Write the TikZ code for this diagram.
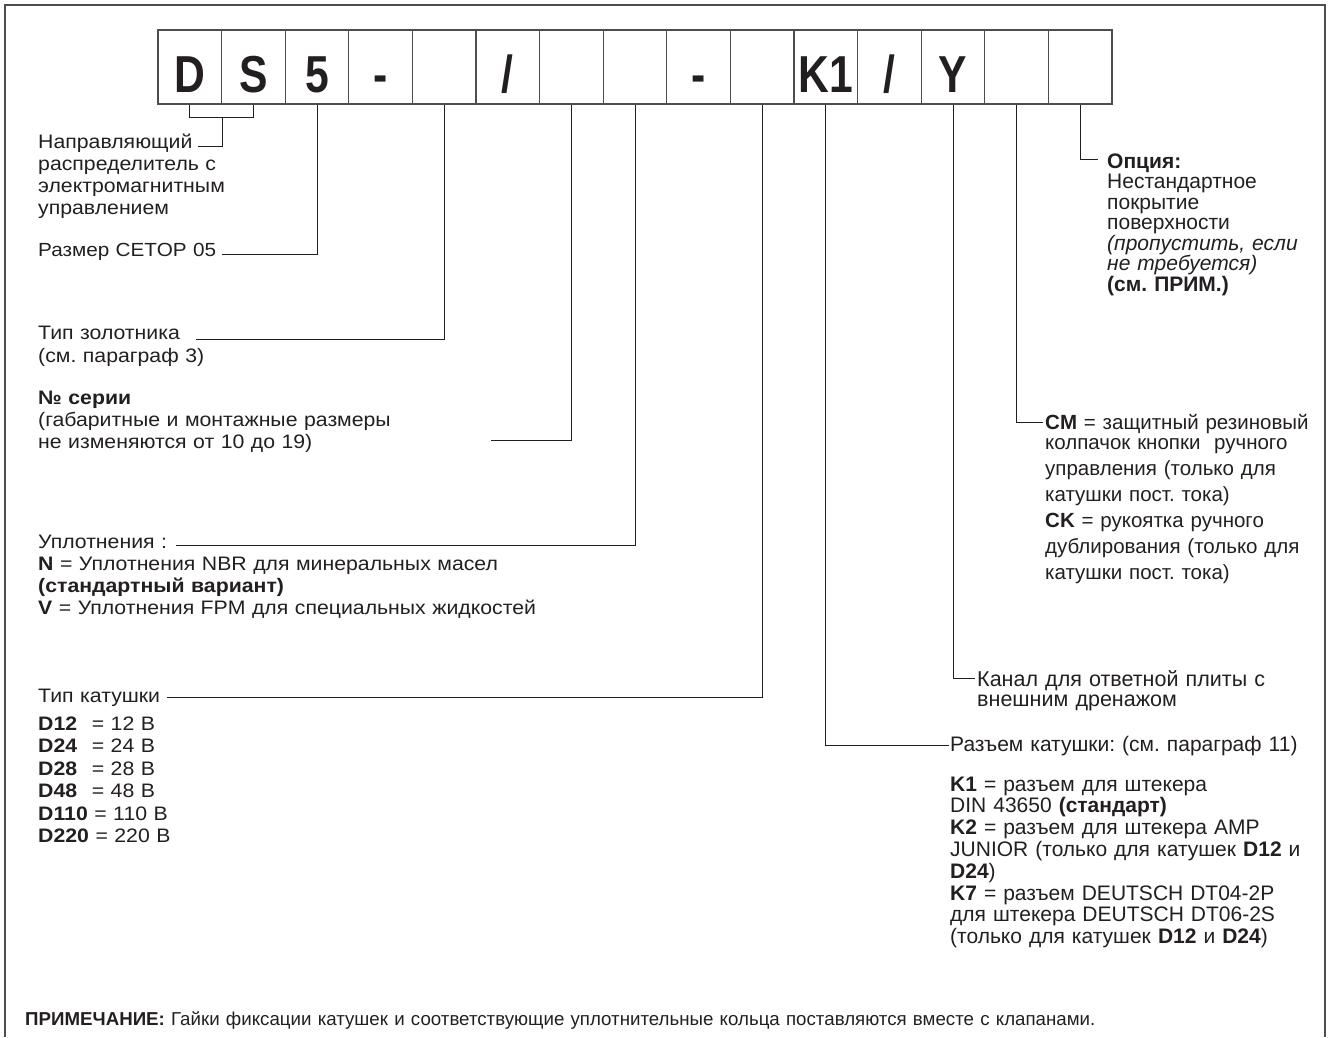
\documentclass[tikz,border=0pt]{standalone}
\usepackage{fontspec}
\setmainfont{Liberation Sans}
\newfontfamily\codefont[FakeStretch=0.82]{Liberation Sans}
\newfontfamily\leftfont[FakeStretch=1.09]{Liberation Sans}
\usetikzlibrary{positioning}
\frenchspacing

\definecolor{linegray}{HTML}{4D4D4D}
\definecolor{inkblack}{HTML}{231F20}

\tikzset{
  codebox/.style={draw=linegray,line width=1.2pt,minimum width=63.6pt,minimum height=74pt,
    inner sep=0pt,text height=50pt,text depth=0pt,text=inkblack,
    font=\codefont\bfseries\fontsize{52}{52}\selectfont},
  lead/.style={draw=inkblack,line width=0.9pt},
  frame/.style={draw=linegray,line width=1.8pt},
  txt/.style={anchor=base west,inner sep=0pt,align=left,text width=520pt,text=inkblack,
    font=\leftfont\fontsize{19.5}{22}\selectfont},
  rtxt/.style={txt,text width=380pt,font=\fontsize{21}{20.5}\selectfont},
}

\begin{document}
\begin{tikzpicture}[x=1pt,y=-1pt]
  \useasboundingbox (0,0) rectangle (1329,1037);
  \draw[frame] (5,1037) -- (5,5) -- (1325,5) -- (1325,1037);

  % code boxes
  \foreach \lbl [count=\i] in {D,S,5,-,{},/,{},{},-,{},K1,/,Y,{},{}}
    \node[codebox] (b\i) at ({158+63.6*(\i-0.5)},67) {\lbl};

  % left side
  \node[txt] (dirTxt) at (38,148.5) {Направляющий\\распределитель с\\электромагнитным\\управлением};
  \coordinate (dirEnd) at (198,146);
  \draw[lead] (b1.south) -- ++(0,13) -| (b2.south);
  \draw[lead] (b1.south east) ++(0,13) |- (dirEnd);

  \node[txt,font=\leftfont\fontsize{19}{22}\selectfont] (sizeTxt) at (38,256.5) {Размер CETOP 05};
  \coordinate (sizeEnd) at (222,254);
  \draw[lead] (b3.south) |- (sizeEnd);

  \node[txt] (spoolTxt) at (38,339.5) {Тип золотника\\[1pt](см. параграф 3)};
  \coordinate (spoolEnd) at (196,339);
  \draw[lead] (b5.south) |- (spoolEnd);

  \node[txt] (seriesTxt) at (38,404) {\textbf{№ серии}\\(габаритные и монтажные размеры\\не изменяются от 10 до 19)};
  \coordinate (seriesEnd) at (491,440);
  \draw[lead] (b7.south) |- (seriesEnd);

  \node[txt] (sealTxt) at (38,548) {Уплотнения :\\\textbf{N} = Уплотнения NBR для минеральных масел\\\textbf{(стандартный вариант)}\\\textbf{V} = Уплотнения FPM для специальных жидкостей};
  \coordinate (sealEnd) at (176,545);
  \draw[lead] (b8.south) |- (sealEnd);

  \node[txt] (coilTxt) at (38,702) {Тип катушки};
  \coordinate (coilEnd) at (167,697);
  \draw[lead] (b10.south) |- (coilEnd);
  \node[txt,font=\leftfont\fontsize{19.5}{22.5}\selectfont] (voltTxt) at (38,730)
    {\makebox[2.75em][l]{\textbf{D12}}= 12 В\\\makebox[2.75em][l]{\textbf{D24}}= 24 В\\
     \makebox[2.75em][l]{\textbf{D28}}= 28 В\\\makebox[2.75em][l]{\textbf{D48}}= 48 В\\
     \textbf{D110} = 110 В\\\textbf{D220} = 220 В};

  % right side
  \node[rtxt] (optTxt) at (1107,168) {\textbf{Опция:}\\Нестандартное\\покрытие\\поверхности\\\textit{(пропустить, если}\\\textit{не требуется)}\\\textbf{(см. ПРИМ.)}};
  \coordinate (optEnd) at (1098,159);
  \draw[lead] (b15.south) |- (optEnd);

  \node[rtxt,font=\fontsize{20.5}{20.5}\selectfont] (capTxt) at (1045,429) {\textbf{CM} = защитный резиновый\\колпачок кнопки\ \ ручного\\[5.5pt]управления (только для\\[5.5pt]катушки пост. тока)\\[5.5pt]\textbf{CK} = рукоятка ручного\\[5.5pt]дублирования (только для\\[5.5pt]катушки пост. тока)};
  \coordinate (capEnd) at (1043,422);
  \draw[lead] (b14.south) |- (capEnd);

  \node[rtxt,font=\fontsize{21.5}{20.5}\selectfont] (drainTxt) at (977,686) {Канал для ответной плиты с\\внешним дренажом};
  \coordinate (drainEnd) at (975,678);
  \draw[lead] (b13.south) |- (drainEnd);

  \node[rtxt] (plugTxt) at (950,751) {Разъем катушки: (см. параграф 11)};
  \coordinate (plugEnd) at (949,745);
  \draw[lead] (b11.south) |- (plugEnd);

  \node[rtxt,font=\fontsize{21}{21.8}\selectfont] (kTxt) at (950,791) {\textbf{K1} = разъем для штекера\\DIN 43650 \textbf{(стандарт)}\\\textbf{K2} = разъем для штекера AMP\\JUNIOR (только для катушек \textbf{D12} и\\\textbf{D24})\\\textbf{K7} = разъем DEUTSCH DT04-2P\\для штекера DEUTSCH DT06-2S\\(только для катушек \textbf{D12} и \textbf{D24})};

  \node[txt,text width=1300pt,font=\fontsize{18.7}{22}\selectfont] (noteTxt) at (25,1025) {\textbf{ПРИМЕЧАНИЕ:} Гайки фиксации катушек и соответствующие уплотнительные кольца поставляются вместе с клапанами.};
\end{tikzpicture}
\end{document}
